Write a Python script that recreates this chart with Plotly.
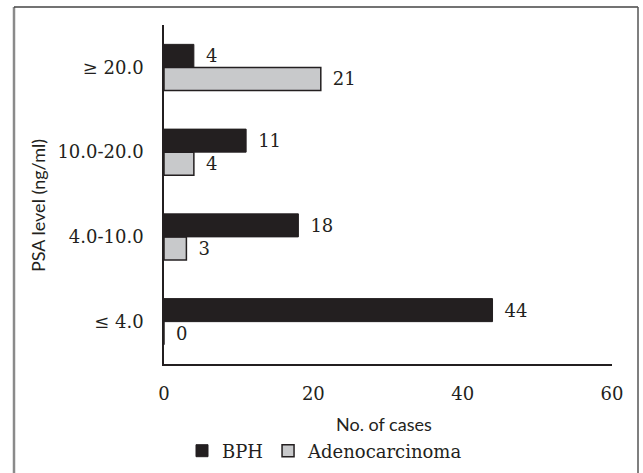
import plotly.graph_objects as go

categories = ["≤ 4.0", "4.0-10.0", "10.0-20.0", "≥ 20.0"]
bph = [44, 18, 11, 4]
adeno = [0, 3, 4, 21]
x_ticks = [0, 20, 40, 60]

serif = "DejaVu Serif"
sans = "Lato"
ink = "#231f20"

fig = go.Figure()
fig.add_trace(go.Bar(
    y=categories, x=adeno, name="Adenocarcinoma", orientation="h",
    marker=dict(color="#c8c9cb", line=dict(color=ink, width=1.5)),
    text=adeno, texttemplate="\u2002%{x}", textposition="outside",
    textfont=dict(family=serif, size=18, color=ink), cliponaxis=False,
))
fig.add_trace(go.Bar(
    y=categories, x=bph, name="BPH", orientation="h",
    marker=dict(color=ink, line=dict(color=ink, width=1)),
    text=bph, texttemplate="\u2002%{x}", textposition="outside",
    textfont=dict(family=serif, size=18, color=ink), cliponaxis=False,
))

fig.update_layout(
    width=643, height=473,
    margin=dict(l=164, r=31, t=25, b=109, autoexpand=False),
    paper_bgcolor="white", plot_bgcolor="white",
    barmode="group", bargap=0.457, bargroupgap=0,
    showlegend=True,
    legend=dict(orientation="h", xref="container", yref="container",
                x=182 / 643, xanchor="left", y=1 - 451 / 473, yanchor="middle",
                traceorder="reversed", font=dict(family=serif, size=18, color=ink),
                itemwidth=30, bgcolor="rgba(0,0,0,0)"),
    font=dict(family=serif, size=18, color=ink),
    xaxis=dict(range=[0, 60], tickvals=x_ticks, showgrid=False, zeroline=False,
               showline=True, linecolor=ink, linewidth=1.5, ticks="", automargin=False,
               ticklabelstandoff=13, tickfont=dict(family=serif, size=18, color=ink),
               fixedrange=True),
    yaxis=dict(showgrid=False, zeroline=False, showline=True, linecolor=ink, linewidth=1.5,
               ticks="", ticklabelstandoff=15, automargin=False,
               tickfont=dict(family=serif, size=18, color=ink),
               categoryorder="array", categoryarray=categories, fixedrange=True),
    annotations=[
        dict(text="No. of cases", xref="paper", yref="paper", x=(384 - 164) / 448,
             y=(364 - 424) / 339, showarrow=False, xanchor="center", yanchor="middle",
             font=dict(family=sans, size=18, color=ink)),
        dict(text="PSA level (ng/ml)", xref="paper", yref="paper", x=(38 - 164) / 448,
             y=(364 - 206) / 339, showarrow=False, textangle=-90, xanchor="center",
             yanchor="middle", font=dict(family=sans, size=18, color=ink)),
    ],
    shapes=[
        dict(type="line", xref="paper", yref="paper", x0=(14 - 164) / 448, x1=(14 - 164) / 448,
             y0=(364 - 7) / 339, y1=(364 - 480) / 339, line=dict(color="#8a8a8a", width=2.5)),
        dict(type="line", xref="paper", yref="paper", x0=(14 - 164) / 448, x1=(638 - 164) / 448,
             y0=(364 - 7) / 339, y1=(364 - 7) / 339, line=dict(color="#444444", width=1.5)),
        dict(type="line", xref="paper", yref="paper", x0=(638 - 164) / 448, x1=(638 - 164) / 448,
             y0=(364 - 7) / 339, y1=(364 - 480) / 339, line=dict(color="#555555", width=1.5)),
    ],
)

fig.write_html("out.html", config={"displayModeBar": False},
               post_script="document.body.style.margin='0';")
